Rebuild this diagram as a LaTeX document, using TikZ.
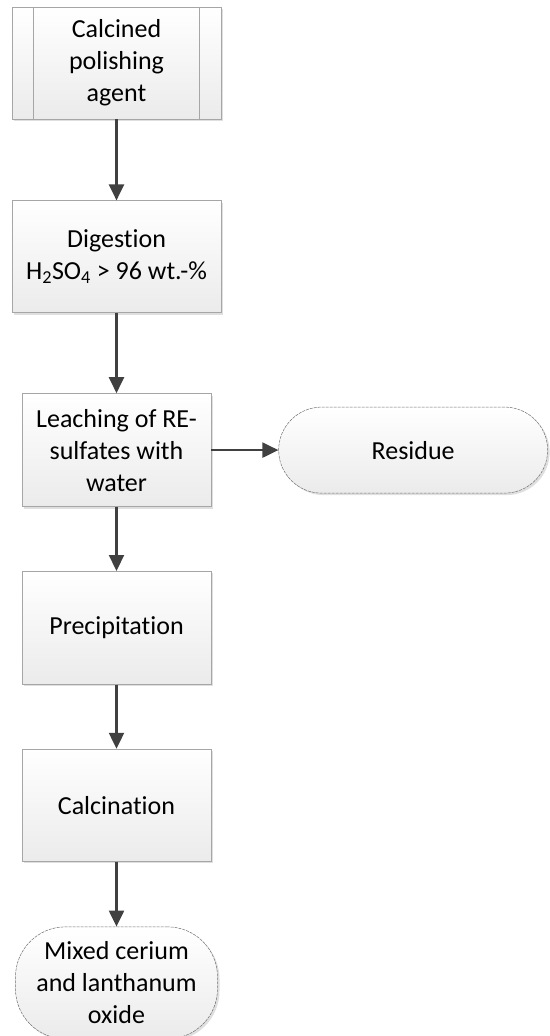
\documentclass[tikz,border=0pt]{standalone}
\usepackage{fontspec}
\setmainfont{Carlito}[Ligatures=NoCommon]
\usetikzlibrary{positioning,arrows.meta,shadows}
\definecolor{boxline}{HTML}{A6A6A6}
\definecolor{boxfill}{HTML}{EBEBEB}
\definecolor{arrowgray}{HTML}{404040}
\definecolor{termline}{HTML}{707070}

\begin{document}
\begin{tikzpicture}[x=1pt,y=-1pt,
	chart/.style={top color=white, bottom color=boxfill, align=center, inner sep=4pt,
		font=\fontsize{26}{32}\selectfont,
		drop shadow={shadow xshift=2pt, shadow yshift=-2pt, opacity=0.25}},
	process/.style={chart, draw=boxline, line width=0.8pt, minimum width=189pt, minimum height=113pt},
	wideprocess/.style={process, minimum width=209pt, minimum height=112pt},
	terminal/.style={chart, draw=termline, line width=0.5pt, dash pattern=on 3pt off 1pt},
	flow/.style={draw=arrowgray, line width=2.2pt, -{Triangle[length=16pt,width=15pt]}}
]
\useasboundingbox (0,0) rectangle (549,1036);

\node[wideprocess] (agent) at (116.5,63) {Calcined\\polishing\\agent};
\draw[boxline, line width=0.8pt] ([xshift=22pt]agent.north west) -- ([xshift=22pt]agent.south west);
\draw[boxline, line width=0.8pt] ([xshift=-22pt]agent.north east) -- ([xshift=-22pt]agent.south east);
\node[wideprocess, below=81pt of agent] (digest) {Digestion\\H\textsubscript{2}SO\textsubscript{4} > 96 wt.-\%};
\node[process, below=80pt of digest] (leach) {Leaching of RE-\\sulfates with\\water};
\node[terminal, right=67pt of leach, minimum width=269pt, minimum height=86pt, rounded corners=43pt] (residue) {Residue};
\node[process, below=64pt of leach] (precip) {Precipitation};
\node[process, below=64pt of precip, minimum height=112pt] (calc) {Calcination};
\node[terminal, below=65pt of calc, minimum width=202pt, minimum height=112pt, rounded corners=50pt] (oxide) {Mixed cerium\\and lanthanum\\oxide};

\draw[flow] (agent) -- (digest);
\draw[flow] (digest) -- (leach);
\draw[flow] (leach) -- (residue);
\draw[flow] (leach) -- (precip);
\draw[flow] (precip) -- (calc);
\draw[flow] (calc) -- (oxide);
\end{tikzpicture}
\end{document}
